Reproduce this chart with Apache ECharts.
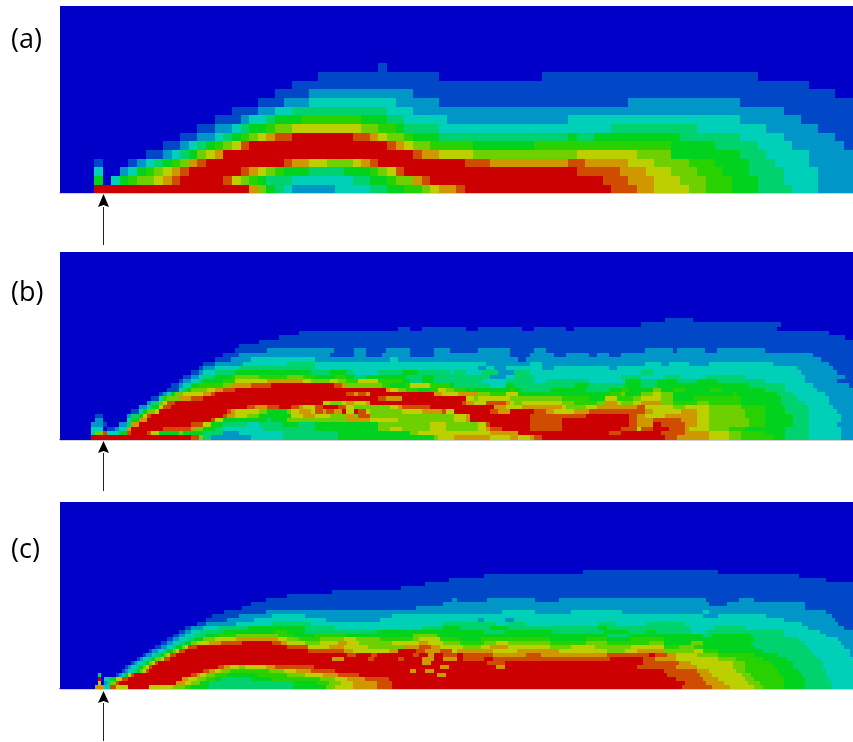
<!DOCTYPE html>
<html>
<head>
<meta charset="utf-8">
<style>
  html, body { margin: 0; padding: 0; background: #fff; }
  #chart { width: 853px; height: 742px; }
</style>
<script src="https://cdn.jsdelivr.net/npm/echarts@6/dist/echarts.min.js"></script>
</head>
<body>
<div id="chart"></div>
<script>
// contour levels, dark blue up to red
const levelColors = ['#0000c8', '#0048c8', '#0096c8', '#00d0b8', '#00d26e', '#00d21e',
  '#28d200', '#6ed000', '#bcd000', '#d09800', '#d04c00', '#cc0000'];

const panelLabels = ['(a)', '(b)', '(c)'];

// each row is bottom-up, tokens are level:endColumn
const rowsA = [
  '0:4 11:22 9:23 7:24 5:25 4:26 3:27 2:32 3:36 4:38 5:40 6:42 7:43 8:44 9:46 10:47 11:64 10:67 9:69 8:73 7:75 6:78 5:81 4:85 3:88 2:92',
  '0:4 5:5 0:6 3:7 5:8 6:9 7:11 8:12 9:13 10:14 11:19 10:20 8:21 7:22 6:23 5:24 4:27 3:34 4:36 5:38 6:39 7:41 9:42 10:43 11:63 10:66 9:69 8:72 7:75 6:78 5:81 4:84 3:88 2:92',
  '0:4 3:5 0:7 2:8 3:9 5:10 6:11 7:12 8:13 9:14 10:15 11:21 10:22 9:23 8:24 7:25 6:26 5:29 4:33 5:36 6:37 7:38 8:39 10:40 11:60 10:65 9:68 8:71 7:74 6:77 5:80 4:84 3:88 2:92',
  '0:4 1:5 0:8 1:9 2:10 3:11 4:12 5:13 6:14 7:15 9:16 10:17 11:26 10:27 9:29 8:31 7:34 8:35 9:36 10:37 11:47 10:50 9:59 10:61 9:66 8:69 7:73 6:76 5:80 4:83 3:87 2:92',
  '0:10 1:12 2:13 3:14 4:15 5:16 7:17 8:18 9:19 11:41 10:42 9:44 8:48 7:60 8:67 7:71 5:79 4:82 3:87 2:92',
  '0:12 1:14 2:15 3:16 4:17 5:18 6:19 7:20 8:21 10:22 11:38 10:39 9:40 8:41 7:43 6:48 5:55 6:71 5:76 4:81 3:85 2:91 1:92',
  '0:14 1:16 2:18 3:19 4:20 5:21 6:22 7:23 8:24 9:25 10:27 11:34 10:36 9:37 8:38 7:40 6:41 5:44 4:59 5:60 4:62 5:72 4:79 3:84 2:90 1:92',
  '0:16 1:18 2:20 3:21 4:22 5:24 6:25 7:27 8:35 7:37 6:39 5:40 4:44 3:64 4:74 3:82 2:88 1:92',
  '0:18 1:21 2:22 3:24 4:25 5:28 6:35 5:38 4:40 3:45 2:59 3:79 2:86 1:92',
  '0:20 1:23 2:25 3:27 4:38 3:41 2:84 1:92',
  '0:23 1:26 2:29 3:39 2:44 1:66 2:79 1:92',
  '0:25 1:29 2:41 1:90 0:92',
  '0:27 1:87 0:92',
  '0:30 1:44 0:56 1:81 0:92',
  '0:37 1:38 0:92'
];

const rowsB = [
  '0:8 11:33 10:35 7:36 4:38 2:48 3:56 4:70 5:94 7:95 8:99 9:108 8:113 9:115 8:118 9:119 10:121 11:152 10:155 9:163 8:168 7:171 6:179 5:182 4:188 3:196 2:199',
  '0:8 3:9 7:11 10:12 3:15 5:17 10:18 11:22 10:23 8:25 5:30 7:31 5:36 4:41 2:45 3:56 4:70 5:88 7:90 8:108 9:115 11:138 10:141 11:151 10:157 9:163 8:168 7:171 6:177 5:182 4:188 3:196 2:199',
  '0:8 3:11 0:12 1:14 2:15 3:17 9:18 11:26 10:33 9:34 7:36 5:39 4:41 3:51 4:64 5:80 7:83 8:86 7:93 8:97 7:105 8:107 9:108 10:111 11:118 10:126 11:141 10:145 8:146 10:149 11:153 10:157 9:158 8:163 7:168 6:172 5:182 4:188 3:196 2:199',
  '0:8 2:11 1:12 0:15 2:17 4:18 9:20 11:33 10:36 8:38 5:41 4:47 3:50 4:56 5:60 4:64 5:80 7:93 8:97 7:105 8:107 10:108 11:118 10:126 11:143 10:145 9:149 11:151 10:157 9:160 8:163 7:173 6:177 5:184 4:188 3:195 2:199',
  '0:9 2:11 0:17 3:18 5:20 9:22 11:38 10:39 8:41 5:52 4:53 5:57 7:72 9:78 8:85 7:99 8:102 9:103 11:118 10:126 11:143 10:145 9:149 10:156 9:160 8:163 7:173 6:177 5:184 4:188 3:196 2:199',
  '0:9 1:11 0:17 2:18 4:20 5:21 8:22 10:23 11:41 10:42 9:44 8:47 7:50 5:58 8:61 9:64 8:68 7:72 9:74 7:75 10:78 7:99 8:102 9:103 11:118 10:132 11:143 10:145 9:147 8:152 9:160 8:163 7:172 6:177 5:184 4:188 3:196 2:199',
  '0:18 1:20 3:21 5:22 7:24 8:25 11:42 10:43 9:44 8:50 7:52 5:57 7:58 8:60 9:63 8:64 10:66 9:67 10:69 9:71 11:72 8:74 11:75 10:77 8:78 7:86 8:91 9:96 10:97 8:99 11:108 10:110 9:113 11:119 10:122 9:124 8:129 9:133 10:147 9:149 8:156 9:160 8:163 7:172 6:177 5:182 4:188 3:195 2:199',
  '0:20 2:22 3:23 5:25 8:26 10:28 11:47 10:49 9:52 10:55 11:58 10:60 9:61 8:64 10:66 11:70 10:72 8:74 7:83 8:85 9:86 10:93 11:109 9:112 8:116 9:126 8:127 7:132 8:135 9:145 10:147 8:154 7:157 8:163 7:171 6:177 5:182 4:188 3:194 2:199',
  '0:22 2:23 4:25 7:26 8:27 10:29 11:66 8:68 7:71 8:72 9:74 8:77 9:78 11:101 10:102 9:104 8:107 10:112 9:113 8:114 7:116 8:126 7:129 6:135 7:137 9:140 8:141 7:144 8:146 9:151 7:154 6:160 7:163 6:171 5:181 4:187 3:193 2:199',
  '0:23 1:25 3:26 6:27 7:30 9:33 10:36 11:80 10:82 9:86 11:102 8:104 7:105 8:113 7:126 6:133 5:137 8:140 6:144 7:146 8:151 7:154 5:159 6:171 5:181 4:185 3:193 2:199',
  '0:25 1:26 2:27 3:28 5:29 7:31 8:36 9:38 10:39 11:72 10:74 9:75 10:77 9:78 11:94 9:96 8:100 9:105 7:108 6:112 8:115 5:138 6:141 7:142 5:146 7:149 8:151 7:154 5:169 6:170 5:180 4:184 3:192 2:199',
  '0:27 1:30 3:31 4:32 5:33 7:37 8:39 9:41 10:44 11:82 9:83 8:85 7:87 6:90 5:93 6:95 8:97 7:99 6:102 5:113 6:114 5:116 4:123 5:132 4:138 5:141 6:143 5:149 7:151 5:154 6:157 5:163 6:166 5:177 4:182 3:190 2:199',
  '0:28 1:30 2:31 3:33 5:35 6:41 7:43 9:48 10:53 11:69 10:71 9:72 7:81 6:83 5:87 6:88 8:93 6:98 5:99 4:108 3:112 5:114 4:129 5:133 4:142 5:146 4:150 5:173 4:182 3:189 2:198 1:199',
  '0:30 1:31 2:33 3:35 4:36 5:41 6:44 8:52 9:61 8:63 7:68 8:70 7:72 6:75 8:80 6:86 5:88 4:91 5:94 4:106 3:112 4:119 3:122 4:133 3:142 5:146 4:150 5:155 4:160 5:165 4:177 3:187 2:195 1:199',
  '0:31 1:33 2:35 3:36 4:39 5:43 6:44 7:50 6:57 7:61 6:64 5:69 6:72 5:74 4:77 5:87 4:91 5:94 4:108 2:112 3:114 4:119 3:141 4:146 3:152 4:156 3:162 4:172 3:187 2:197 1:199',
  '0:33 1:35 2:36 3:39 4:44 5:63 4:68 5:72 4:74 3:80 4:86 5:90 4:98 3:99 4:102 3:106 4:110 2:114 4:118 3:146 4:149 3:186 2:195 1:199',
  '0:35 1:36 2:39 3:45 4:64 3:105 2:107 3:109 2:112 3:121 2:124 3:138 2:140 3:185 2:194 1:199',
  '0:36 1:39 2:46 3:57 4:64 3:107 2:118 3:121 2:147 3:151 2:153 3:158 2:163 3:179 2:193 1:199',
  '0:39 1:43 2:48 3:64 2:83 3:85 2:115 1:117 2:191 1:199',
  '0:41 1:45 2:68 1:74 2:77 1:81 2:88 1:94 2:113 1:118 2:124 1:127 2:133 1:135 2:138 1:141 2:189 1:199',
  '0:44 1:52 2:69 1:74 2:77 1:82 2:88 1:94 2:98 1:105 2:113 1:119 2:122 1:147 2:154 1:155 2:162 1:165 2:177 1:199',
  '0:45 1:199',
  '0:50 1:199',
  '0:55 1:197 0:199',
  '0:60 1:193 0:199',
  '0:85 1:88 0:91 1:102 0:105 1:116 0:119 1:127 0:129 1:180 0:199',
  '0:146 1:181 0:199',
  '0:152 1:159 0:199'
];

const rowsC = [
  '0:12 9:15 3:17 10:19 8:23 11:30 8:38 7:42 6:44 5:50 4:78 5:89 7:92 8:98 9:106 10:111 11:208 10:218 9:224 8:232 7:235 6:242 5:249 4:258 3:265',
  '0:13 8:14 0:15 2:16 4:17 7:19 10:20 11:39 9:42 8:44 7:47 5:50 4:78 5:86 6:90 7:94 8:98 9:106 10:111 11:209 10:216 9:222 8:230 7:234 6:242 5:249 4:258 3:265',
  '0:13 11:14 0:15 3:17 5:19 8:21 10:23 11:41 9:43 8:46 7:49 6:52 5:54 4:64 5:71 6:87 7:92 8:96 9:102 10:110 11:206 10:215 9:220 8:229 7:232 6:242 5:249 4:257 3:265',
  '0:13 4:14 0:19 1:20 2:21 3:22 5:23 8:24 10:25 11:44 10:46 9:47 8:49 7:52 6:56 5:66 6:76 7:82 8:88 9:93 10:100 11:126 9:129 11:203 10:214 9:218 8:228 7:231 6:241 5:248 4:256 3:265',
  '0:21 1:22 2:23 3:25 4:26 5:27 7:28 8:29 10:30 11:48 10:50 9:52 8:54 7:57 6:70 7:75 8:79 9:84 10:92 11:117 9:119 11:122 9:125 11:202 10:213 9:217 8:226 7:229 6:240 5:247 4:256 3:265',
  '0:22 1:23 2:24 3:26 4:27 5:28 7:29 8:30 10:31 11:53 10:55 9:57 8:60 7:62 8:69 9:72 10:85 11:127 9:130 11:146 9:149 11:193 10:206 9:213 8:225 7:229 6:239 5:245 4:255 3:265',
  '0:24 1:25 2:26 3:28 4:29 5:30 7:31 8:32 10:33 11:121 9:124 11:143 10:149 11:195 10:207 9:211 8:225 7:229 6:238 5:245 4:255 3:265',
  '0:26 1:27 2:28 3:30 4:31 5:32 7:34 8:35 10:37 11:91 9:95 11:103 10:105 11:113 10:115 11:121 9:125 11:128 9:133 11:135 10:142 11:145 10:184 11:195 10:199 9:206 8:220 7:226 6:235 5:243 4:254 3:265',
  '0:28 1:29 2:31 3:32 4:34 5:35 7:36 8:37 10:39 11:96 10:99 11:104 10:106 11:118 10:120 11:123 9:125 11:128 10:133 11:135 10:145 9:156 10:161 9:183 10:197 11:199 10:203 9:206 8:213 7:220 6:232 5:240 4:252 3:264 2:265',
  '0:30 1:31 2:33 3:35 4:36 5:38 7:39 8:40 10:42 11:83 10:95 9:98 8:110 9:113 11:119 10:122 9:127 10:131 8:133 9:145 8:153 9:167 8:183 7:189 8:193 9:202 7:212 8:215 6:220 5:235 4:251 3:264 2:265',
  '0:32 1:34 2:36 3:38 4:39 5:41 7:42 8:43 10:46 11:76 10:83 8:90 9:95 8:103 7:115 9:120 10:124 9:127 8:135 7:141 8:144 9:150 8:164 7:171 8:179 7:191 8:202 6:207 7:212 6:215 5:232 4:250 3:262 2:265',
  '0:34 1:36 2:38 3:40 4:42 5:44 7:46 8:50 9:54 10:61 11:71 10:74 9:76 8:82 7:87 8:93 9:96 8:100 7:111 8:120 9:123 8:128 7:134 6:142 7:146 8:150 7:164 6:176 7:183 6:197 7:202 5:211 7:215 5:231 4:249 3:261 2:265',
  '0:36 1:38 2:40 3:43 4:45 5:48 7:52 8:59 9:73 8:76 7:80 6:87 7:95 8:99 7:107 6:118 7:120 8:127 6:134 5:141 6:164 5:176 6:183 5:191 6:202 5:232 4:247 3:260 2:265',
  '0:38 1:40 2:42 3:45 4:49 5:53 6:59 7:73 6:78 5:85 6:96 5:118 7:126 5:183 4:190 5:215 4:218 5:231 4:242 3:256 2:265',
  '0:40 1:42 2:44 3:47 4:55 5:72 6:76 5:82 4:106 5:142 4:149 5:165 4:182 5:190 4:196 5:199 4:211 3:216 4:242 3:254 2:265',
  '0:42 1:44 2:48 3:53 4:63 5:82 4:92 3:121 4:128 5:134 4:144 5:150 4:180 5:183 4:211 3:219 4:229 3:250 2:262 1:265',
  '0:46 1:49 2:59 3:71 4:84 3:128 4:146 3:150 4:156 3:180 4:186 3:196 4:209 3:248 2:260 1:265',
  '0:49 1:56 2:65 3:89 2:107 3:140 2:142 3:149 2:152 3:242 2:259 1:265',
  '0:51 1:60 2:71 3:82 2:111 3:215 2:220 3:236 2:258 1:265',
  '0:55 1:69 2:148 3:159 2:171 3:188 2:215 3:217 2:256 1:265',
  '0:61 1:119 2:249 1:265',
  '0:64 1:128 2:217 1:223 2:249 1:265',
  '0:69 1:131 2:133 1:143 2:159 1:167 2:216 1:227 2:232 1:265',
  '0:76 1:265',
  '0:91 1:265',
  '0:114 1:265',
  '0:122 1:265',
  '0:130 1:256 0:265',
  '0:142 1:247 0:265',
  '0:175 1:220 0:265'
];

// column and row counts of each panel; top row of (a) only peeks out, so it stays empty
const gridCols = [92, 199, 265];
const gridRows = [22, 43, 47];
const filledRows = [21, 43, 47];

// one [startCol, endCol, row, level] per run of equal cells
function rowsToRuns(rows, cols, totalRows) {
  const runs = [];
  for (let r = 0; r < totalRows; r++) {
    let col = 0;
    const tokens = r < rows.length ? rows[r].split(' ') : ['0:' + cols];
    tokens.forEach(t => {
      const [level, end] = t.split(':').map(Number);
      const stop = Math.min(end, cols);
      if (stop > col) {
        runs.push([col, stop - 1, r, level]);
        col = stop;
      }
    });
  }
  return runs;
}

// snapped to whole pixels so neighbouring cells leave no seams
function renderRun(params, api) {
  const start = api.coord([api.value(0), api.value(2)]);
  const end = api.coord([api.value(1), api.value(2)]);
  const band = api.size([1, 1]);
  const x0 = Math.floor(start[0] - band[0] / 2);
  const x1 = Math.ceil(end[0] + band[0] / 2);
  const y0 = Math.floor(start[1] - band[1] / 2);
  const y1 = Math.ceil(start[1] + band[1] / 2);
  return {
    type: 'rect',
    shape: { x: x0, y: y0, width: x1 - x0, height: y1 - y0 },
    style: { fill: levelColors[api.value(3)] }
  };
}

const panelRows = [rowsA, rowsB, rowsC];
const gridBoxes = [
  { left: 60, top: 2, width: 796, height: 190.7 },
  { left: 60, top: 252.3, width: 796, height: 187 },
  { left: 60, top: 502, width: 795, height: 186.6 }
];
const baseLines = [
  { color: '#d0d0d0', width: 2 },
  { color: '#000', width: 1 },
  { color: '#000', width: 1 }
];

function indexList(n) {
  return Array.from({ length: n }, (_, i) => i);
}

const arrow = (tipY, baseY, endY) => [
  { type: 'line', shape: { x1: 103.5, y1: baseY, x2: 103.5, y2: endY }, style: { stroke: '#222', lineWidth: 1 }, z: 10 },
  { type: 'polygon', shape: { points: [[103.5, tipY], [98, baseY], [103.5, baseY - 2], [109, baseY]] }, style: { fill: '#000' }, z: 10 }
];

const label = (text, y) => ({
  type: 'text', left: 11, top: y, z: 10,
  style: { text, fill: '#000', font: '27px "Open Sans", sans-serif' }
});

const chart = echarts.init(document.getElementById('chart'), null, { renderer: 'canvas' });
chart.setOption({
  animation: false,
  backgroundColor: '#fff',
  grid: gridBoxes,
  xAxis: gridBoxes.map((b, i) => ({
    type: 'category', gridIndex: i, data: indexList(gridCols[i]),
    axisLabel: { show: false }, axisTick: { show: false }, splitLine: { show: false },
    axisLine: { show: true, onZero: false, lineStyle: baseLines[i] }
  })),
  yAxis: gridBoxes.map((b, i) => ({
    type: 'category', gridIndex: i, data: indexList(gridRows[i]), show: false
  })),
  series: panelRows.map((rows, i) => ({
    type: 'custom', xAxisIndex: i, yAxisIndex: i, silent: true, progressive: 0,
    renderItem: renderRun,
    encode: { x: [0, 1], y: 2 },
    data: rowsToRuns(rows, gridCols[i], filledRows[i])
  })),
  graphic: [
    // top sliver of (a) above the last full row
    { type: 'rect', shape: { x: 60, y: 6, width: 793, height: 10 }, style: { fill: levelColors[0] }, z: 0 },
    { type: 'rect', shape: { x: 60, y: 440, width: 793, height: 1 }, style: { fill: '#cfcfcf' }, z: 0 },
    { type: 'rect', shape: { x: 60, y: 689, width: 793, height: 1 }, style: { fill: '#cfcfcf' }, z: 0 },
    ...arrow(194, 207, 245),
    ...arrow(441, 453, 491),
    ...arrow(691, 703, 741),
    label(panelLabels[0], 27),
    label(panelLabels[1], 280),
    label(panelLabels[2], 537)
  ]
});
</script>
</body>
</html>
